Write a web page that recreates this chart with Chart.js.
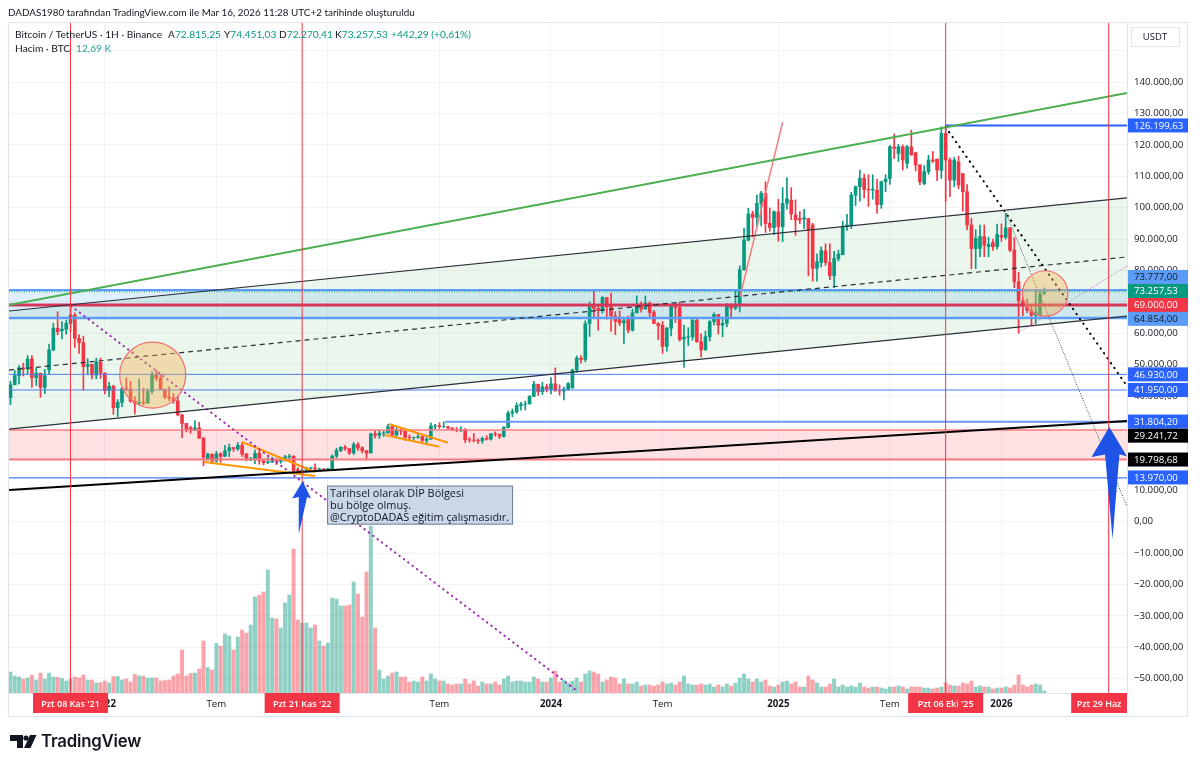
<!DOCTYPE html>
<html>
<head>
<meta charset="utf-8">
<script src="https://cdn.jsdelivr.net/npm/chart.js@4"></script>
<style>
  html,body{margin:0;padding:0;background:#fff;width:1200px;height:766px;overflow:hidden}
  canvas{position:absolute;left:0;top:0}
  .t{position:absolute;font:10.2px Lato,sans-serif;color:#131722;white-space:nowrap;line-height:14px}
  .g{color:#089981}
</style>
</head>
<body>
<canvas id="btc" width="1200" height="766"></canvas>
<div class="t" style="left:8px;top:5px;font-size:9.9px">DADAS1980 tarafından TradingView.com ile Mar 16, 2026 11:28 UTC+2 tarihinde oluşturuldu</div>
<div class="t" style="left:15px;top:27px">Bitcoin / TetherUS · 1H · Binance</div>
<div class="t" style="left:168px;top:27px">A<span class="g">72.815,25</span></div>
<div class="t" style="left:224px;top:27px">Y<span class="g">74.451,03</span></div>
<div class="t" style="left:279px;top:27px">D<span class="g">72.270,41</span></div>
<div class="t" style="left:335px;top:27px">K<span class="g">73.257,53</span></div>
<div class="t g" style="left:391px;top:27px">+442,29 (+0,61%)</div>
<div class="t" style="left:15px;top:41px">Hacim · BTC</div>
<div class="t" style="left:76px;top:41px;color:#26a69a">12,69 K</div>
<svg style="position:absolute;left:9px;top:733px" width="28" height="16" viewBox="0 0 28 16">
  <path d="M1 2H14V15H8V8H1Z" fill="#131722"/><circle cx="17" cy="5" r="2.6" fill="#131722"/>
  <path d="M21 2H27.5L21.5 15H15Z" fill="#131722"/>
</svg>
<div class="t" style="left:41px;top:730px;font:600 16.8px/22px Inter,sans-serif;letter-spacing:-.2px">TradingView</div>
<script>
// weeks counted from Pzt 08 Kas '21 = 0, prices in thousand USDT, volume in thousand BTC
const firstWeek=-14;
const opens=[39.5,43.6,46.5,49.0,48.6,51.8,45.9,47.3,42.8,48.3,
  54.7,61.6,60.8,61.3,63.2,65.8,58.4,57.0,49.4,50.1,
  46.7,50.8,47.3,41.8,43.1,36.3,38.0,42.4,42.2,38.4,
  37.7,38.0,37.8,41.4,46.8,45.8,42.2,39.7,39.4,38.5,
  34.0,31.3,29.9,29.0,29.9,26.6,20.0,21.5,19.3,21.6,
  20.8,22.6,23.6,23.2,24.3,21.5,19.6,20.0,21.8,19.4,
  18.8,19.0,19.4,19.2,19.6,20.6,20.9,16.6,16.3,16.4,
  17.0,17.1,16.7,16.8,16.6,16.9,20.9,22.7,23.7,23.3,
  21.9,24.6,23.5,22.6,21.9,28.0,27.5,28.2,28.3,30.3,
  27.6,29.2,28.9,26.9,26.8,26.9,27.1,25.9,26.3,30.5,
  30.6,30.3,30.3,29.8,29.3,29.0,29.3,26.1,26.0,25.9,
  25.8,26.5,26.3,28.0,27.9,27.2,30.0,34.6,35.0,37.0,
  37.4,37.5,39.9,43.8,41.4,43.0,42.2,43.9,41.7,41.6,
  42.2,42.6,48.3,52.1,51.7,63.1,68.9,67.9,67.2,71.4,
  68.5,65.5,64.9,63.3,64.6,61.0,66.5,68.6,67.7,69.6,
  66.6,63.1,62.6,55.8,61.6,68.5,68.2,58.2,58.7,58.9,
  64.2,57.3,54.7,58.9,63.7,66.0,62.6,63.2,69.0,68.0,
  68.9,80.3,89.7,98.0,96.9,101.4,104.6,95.0,93.7,98.7,
  93.9,101.4,102.4,97.7,96.6,96.4,96.6,94.5,80.7,82.6,
  86.3,82.5,78.3,83.8,85.0,94.0,94.5,104.0,106.7,109.4,
  105.8,105.6,105.6,101.0,108.3,109.3,119.4,117.3,119.4,114.1,
  119.4,117.5,113.6,107.7,111.5,115.2,115.5,111.9,123.7,115.2,
  108.8,114.6,110.9,105.1,94.5,87.0,87.0,90.8,87.6,88.9,
  87.6,91.2,90.6,93.6,86.5,76.4,70.3,68.8,67.4,65.8,65.8,72.82];
const highs=[44.7,48.1,49.7,50.5,52.9,52.9,48.8,47.3,48.5,56.6,
  63.2,66.9,63.7,64.2,69.0,66.5,59.5,59.1,51.9,50.2,
  52.1,52.1,47.5,44.4,43.5,38.9,42.6,45.8,44.7,39.8,
  45.4,42.6,42.3,47.7,48.2,47.0,41.5,42.9,40.8,40.0,
  34.2,31.3,30.5,32.2,31.7,26.9,21.9,21.6,22.4,22.0,
  24.3,24.7,23.6,25.2,25.2,21.8,20.5,22.8,22.7,19.7,
  20.4,20.5,20.0,19.7,21.1,21.5,21.0,17.2,16.8,17.4,
  17.4,18.4,17.1,16.9,17.0,21.3,23.4,23.9,24.3,23.4,
  25.3,25.2,23.9,22.6,28.2,28.9,29.2,28.8,31.0,30.5,
  30.0,29.8,28.9,27.6,26.9,28.4,27.4,26.8,31.4,31.0,
  31.5,31.8,30.3,30.0,30.0,30.2,29.7,26.8,28.1,26.4,
  27.0,27.4,28.1,28.6,27.9,30.3,35.2,35.9,37.9,38.0,
  38.4,40.2,44.7,43.4,44.4,43.8,45.9,49.0,43.6,42.9,
  44.3,48.6,52.8,52.9,64.0,70.0,73.8,68.9,71.7,71.4,
  72.8,66.9,67.2,64.7,65.5,67.7,71.9,70.0,71.9,70.0,
  67.3,63.4,63.8,61.9,68.6,69.4,70.0,62.6,61.8,65.0,
  64.9,59.8,60.7,64.1,66.5,66.0,64.5,69.5,69.5,73.6,
  81.5,93.5,99.8,98.9,104.0,105.2,108.3,99.9,99.0,102.7,
  106.4,109.6,106.4,102.5,98.8,99.5,96.5,95.0,85.3,87.5,
  88.5,88.5,86.1,86.5,95.7,97.9,104.9,106.9,112.0,110.7,
  110.5,110.5,109.0,108.5,110.5,119.9,123.5,120.2,120.0,119.9,
  124.7,117.6,113.7,113.4,116.7,117.9,115.5,125.7,126.2,115.9,
  116.0,116.4,110.9,107.4,96.6,93.0,94.5,94.5,90.6,90.0,
  94.8,94.8,98.2,93.6,90.5,79.4,71.5,70.9,68.9,73.8,74.0,74.45];
const lows=[37.3,43.6,43.9,46.4,47.0,42.8,43.4,39.6,40.8,47.0,
  54.4,59.5,58.2,59.7,60.5,55.5,53.6,41.9,46.8,45.5,
  45.5,45.6,40.7,39.8,34.2,33.5,36.6,41.7,38.0,34.3,
  37.2,37.2,37.7,40.8,45.0,42.1,39.2,38.5,37.7,33.7,
  26.8,28.6,28.2,29.3,26.6,17.8,19.6,18.6,18.9,18.9,
  20.7,20.7,22.4,22.7,20.8,19.5,19.5,18.5,18.3,18.1,
  18.5,18.9,18.2,18.6,19.3,20.0,15.6,15.8,15.5,16.0,
  16.7,16.3,16.3,16.3,16.5,16.9,20.4,22.3,22.7,21.4,
  21.4,22.7,21.9,19.6,21.9,26.6,26.5,27.2,28.2,27.1,
  27.2,27.7,25.9,26.1,25.9,26.5,25.4,24.8,26.2,29.5,
  29.7,29.9,29.5,29.0,28.6,28.7,25.2,25.3,25.4,24.9,
  25.0,26.0,26.0,27.2,26.5,26.9,29.9,33.4,34.5,35.5,
  35.6,37.5,39.9,40.2,40.5,41.3,40.7,41.5,40.3,38.8,
  41.8,42.5,47.6,50.5,50.9,59.0,64.8,61.0,66.4,64.5,
  60.6,59.6,62.4,56.8,60.2,60.7,66.6,66.7,67.7,65.1,
  63.4,58.0,53.6,54.3,59.2,63.4,57.5,49.1,56.1,57.8,
  57.1,52.5,54.6,57.5,62.7,59.8,58.9,62.0,65.1,67.5,
  66.8,80.0,89.4,90.7,94.1,94.2,92.1,92.5,91.5,89.3,
  89.2,99.5,96.2,91.2,94.9,93.3,78.3,76.6,76.6,81.1,
  81.6,77.1,74.5,83.0,85.1,92.8,93.4,100.7,102.1,103.1,
  100.4,102.7,98.2,99.8,105.1,107.4,115.7,114.7,112.0,112.6,
  116.7,111.7,107.3,107.3,110.6,114.4,108.6,109.3,102.0,103.5,
  106.7,106.0,98.9,93.0,80.6,80.6,84.4,84.4,84.4,86.4,
  86.8,89.3,90.0,86.0,74.5,60.0,65.6,66.6,62.5,63.0,65.5,72.27];
const closes=[43.6,46.5,49.0,48.6,51.8,45.9,47.3,42.8,46.5,54.7,
  61.6,60.5,61.3,63.2,65.8,58.4,57.0,49.4,50.1,46.7,
  50.8,47.3,41.8,43.1,36.3,38.0,42.4,42.2,38.4,37.7,
  38.0,37.8,41.4,46.8,45.8,42.2,39.7,39.4,38.5,34.0,
  31.3,29.4,29.0,29.9,26.6,20.5,21.5,19.3,21.6,20.8,
  22.6,23.6,23.2,24.3,21.5,19.6,20.0,21.8,19.4,18.8,
  19.0,19.4,19.2,19.6,20.6,20.9,16.3,16.3,16.4,17.1,
  17.1,16.8,16.8,16.6,16.9,20.9,22.7,23.7,23.3,21.9,
  24.6,23.5,22.6,21.9,28.0,27.5,28.2,28.3,30.3,27.6,
  29.2,28.9,26.9,26.8,26.9,27.1,25.9,26.3,30.5,30.6,
  30.3,30.3,29.8,29.3,29.2,29.3,26.1,26.0,25.9,25.8,
  26.5,26.3,28.0,27.9,27.2,30.0,34.6,35.0,37.0,37.4,
  37.5,39.9,43.8,41.4,43.0,42.2,43.9,41.7,41.6,42.2,
  44.0,48.3,52.1,51.7,63.1,68.9,67.9,67.2,71.4,68.5,
  65.5,63.8,63.3,64.0,61.0,66.5,68.5,67.7,69.6,66.6,
  63.1,62.4,55.8,61.6,68.5,68.2,58.0,58.7,58.9,64.2,
  57.3,54.7,58.9,63.7,66.0,62.6,63.2,69.0,68.0,69.0,
  80.3,89.7,98.0,96.9,101.4,104.6,95.0,93.7,98.7,94.0,
  101.4,102.8,98.0,96.1,96.1,96.8,92.9,80.7,82.8,86.3,
  82.5,78.3,83.8,85.2,94.0,94.5,104.0,106.7,109.4,105.8,
  105.6,105.9,101.0,108.3,109.1,119.4,118.9,119.4,115.2,119.4,
  116.8,113.6,108.3,111.5,115.2,114.8,112.0,123.7,115.2,108.8,
  115.2,107.2,105.1,94.5,87.0,90.2,90.8,88.1,88.3,87.6,
  91.5,90.6,93.6,86.5,76.4,70.3,68.8,67.4,65.8,66.8,72.5,73.26];
const volumes=[126,102,96,84,90,108,78,120,84,120,
  96,93,87,72,84,96,90,108,78,78,
  60,63,72,60,99,99,78,84,66,111,
  102,102,90,90,90,72,75,78,102,114,
  258,102,117,120,144,312,153,138,297,282,
  354,342,258,336,378,360,408,576,588,606,
  738,450,444,390,540,588,864,438,420,420,
  390,408,312,282,300,570,564,522,522,528,
  666,594,456,726,1002,390,138,84,102,120,
  126,96,96,66,72,66,96,72,114,84,
  72,72,54,48,54,54,84,54,72,42,
  66,54,54,66,48,84,102,66,72,72,
  66,66,96,84,66,66,90,132,66,78,
  60,72,90,66,114,132,126,114,66,78,
  96,90,54,84,54,54,66,42,48,48,
  42,48,66,54,60,48,66,102,54,48,
  48,54,48,54,36,48,36,54,42,60,
  90,114,84,66,84,66,78,42,36,48,
  66,72,54,66,36,36,102,78,60,36,
  36,54,84,36,48,36,42,36,60,36,
  30,36,36,30,24,36,36,42,36,24,
  36,36,36,30,30,24,30,36,60,48,
  42,42,60,54,72,36,42,36,36,24,
  30,30,36,30,48,108,48,36,48,54,48,12.69];

const priceTicks=[-50,-40,-30,-20,-10,0,10,20,30,40,50,60,70,80,90,100,110,120,130,140,150];
const timeTicks=[8,34,60,86,112,138,165,191,217];
const timeLabels=['2022','Tem','2023','Tem','2024','Tem','2025','Tem','2026'];

const eventWeeks=[0,54,204,242];
const eventLabels=["Pzt 08 Kas '21","Pzt 21 Kas '22","Pzt 06 Eki '25",'Pzt 29 Haz'];

const WEEK_L=-14.34, WEEK_R=246.27;
const GREEN='#089981', RED='#F23645', BLUE='#2962FF', SOFT_BLUE='#5B9CF6', SOFT_RED='#F77C80';
const AXIS_FONT='"Open Sans",sans-serif';
const weeks=closes.map((_,i)=>i+firstWeek);

// helpers for the drawings, all in week / price units
const datasets=[];
function seg(pts,style){
  datasets.push({type:'line',data:pts.map(p=>({x:p[0],y:p[1]})),pointRadius:0,tension:0,fill:false,order:5,
    borderWidth:1,borderCapStyle:'butt',...style});
  return datasets.length-1;
}
function band(top,bottom,color){
  const b=seg([[WEEK_L,bottom[0]],[WEEK_R,bottom[1]]],{borderWidth:0,borderColor:'transparent',order:30});
  seg([[WEEK_L,top[0]],[WEEK_R,top[1]]],{borderWidth:0,borderColor:'transparent',order:30,fill:b,backgroundColor:color});
}
function hline(p,style,from){ return seg([[from===undefined?WEEK_L:from,p],[WEEK_R,p]],style); }

band([67.1,103.1],[29.5,65.5],'rgba(76,175,80,0.11)');
band([73.777,73.777],[64.854,64.854],'rgba(33,150,243,0.15)');
band([29.24,29.24],[19.8,19.8],'rgba(242,54,69,0.15)');

// volume + candles
datasets.push({type:'bar',label:'Hacim',yAxisID:'yV',order:20,barThickness:3.3,
  data:weeks.map((w,i)=>({x:w,y:volumes[i]})),
  backgroundColor:weeks.map((w,i)=>closes[i]>=opens[i]?'rgba(8,153,129,0.45)':'rgba(242,54,69,0.45)')});
datasets.push({type:'bar',label:'Fitil',order:12,barThickness:1,
  data:weeks.map((w,i)=>({x:w,y:[lows[i],highs[i]]})),
  backgroundColor:weeks.map((w,i)=>closes[i]>=opens[i]?GREEN:RED)});
datasets.push({type:'bar',label:'Gövde',order:11,barThickness:3,
  data:weeks.map((w,i)=>({x:w,y:[opens[i],closes[i]]})),
  backgroundColor:weeks.map((w,i)=>closes[i]>=opens[i]?GREEN:RED)});

// channel and trend lines
seg([[WEEK_L,69.0],[WEEK_R,136.5]],{borderColor:'#4CAF50',borderWidth:2});
seg([[WEEK_L,67.1],[WEEK_R,103.1]],{borderColor:'#2a2e39',borderWidth:1.2});
seg([[WEEK_L,29.5],[WEEK_R,65.5]],{borderColor:'#2a2e39',borderWidth:1.2});
seg([[WEEK_L,48.3],[WEEK_R,84.3]],{borderColor:'#2a2e39',borderWidth:1.2,borderDash:[5,4]});
seg([[WEEK_L,10.1],[WEEK_R,32.1]],{borderColor:'#000',borderWidth:2});
seg([[156.06,71.66],[166.0,127.2]],{borderColor:SOFT_RED,borderWidth:1.5});
seg([[0.12,68.7],[118,-53.8]],{borderColor:'#9C27B0',borderWidth:2,borderDash:[0.5,5],borderCapStyle:'round'});
seg([[204,125.7],[WEEK_R,43.2]],{borderColor:'#000',borderWidth:2,borderDash:[0.5,5.5],borderCapStyle:'round'});
seg([[218.07,98.3],[WEEK_R,4.84]],{borderColor:'#444',borderWidth:1,borderDash:[1,1.5]});
seg([[221.2,60.4],[WEEK_R,81.4]],{borderColor:'#BA68C8',borderWidth:1,borderDash:[1,1.5]});
// orange flags
[[[31.12,19.01],[56.99,14.55]],[[39.98,25.38],[56.99,15.83]],[[74.24,31.11],[87.99,25.16]],[[73.3,27.61],[85.9,23.89]]]
  .forEach(l=>seg(l,{borderColor:'#FF9800',borderWidth:2}));

// horizontal levels
hline(73.777,{borderColor:SOFT_BLUE,borderWidth:2});
hline(73.257,{borderColor:GREEN,borderWidth:1,borderDash:[1,1.5]});
hline(69,{borderColor:'#D5365A',borderWidth:3});
hline(64.854,{borderColor:SOFT_BLUE,borderWidth:2.5});
hline(46.93,{borderColor:'#4a7cf7',borderWidth:1});
hline(41.95,{borderColor:'#4a7cf7',borderWidth:1});
hline(31.804,{borderColor:'#6f97f8',borderWidth:2},87.3);
hline(29.24,{borderColor:SOFT_RED,borderWidth:1.5});
hline(19.8,{borderColor:SOFT_RED,borderWidth:2});
hline(13.97,{borderColor:'#4a7cf7',borderWidth:1.2});
hline(126.2,{borderColor:BLUE,borderWidth:2},204);

// event verticals
eventWeeks.forEach(w=>seg([[w,-54.55],[w,159.14]],{borderColor:RED,borderWidth:1,order:4}));

// highlight circles
[[19.16,46.7,33],[227.2,72.7,22.7]].forEach(c=>datasets.push({type:'line',showLine:false,order:3,
  data:[{x:c[0],y:c[1]}],pointRadius:c[2],pointBackgroundColor:'rgba(245,180,80,0.4)',
  pointBorderColor:'#EE6F73',pointBorderWidth:1.2}));

// blue arrows as closed shapes
[[[54.13,12.9],[51.66,7.4],[53.2,7.9],[53.2,-3.9],[55.14,7.9],[56.07,7.4]],
 [[242.14,30.2],[238.0,20.6],[241.16,21.4],[242.9,-5.5],[244.5,21.5],[246.27,20.8]]]
  .forEach(a=>datasets.push({type:'line',order:2,data:a.map(p=>({x:p[0],y:p[1]})).concat([{x:a[0][0],y:a[0][1]}]),
    pointRadius:0,tension:0,borderWidth:0,fill:'shape',backgroundColor:'#1E53E5'}));

// price tags on the right scale: text, shown at price, background, text colour
const tagTexts=['126.199,63','73.777,00','73.257,53','69.000,00','64.854,00','46.930,00','41.950,00','31.804,20','29.241,72','19.798,68','13.970,00'];
const tagPrices=[126.2,77.93,73.47,69.0,64.6,46.93,41.95,31.9,27.4,19.8,14.1];
const tagColors=[BLUE,SOFT_BLUE,GREEN,RED,SOFT_BLUE,BLUE,BLUE,BLUE,'#000','#000',BLUE];
const tagInk=['#fff','#131722','#fff','#fff','#131722','#fff','#fff','#fff','#fff','#fff','#fff'];

const noteLines=['Tarihsel olarak DİP Bölgesi','bu bölge olmuş.','@CryptoDADAS eğitim çalışmasıdır.'];

const overlay={
  id:'overlay',
  afterDraw(c){
    const g=c.ctx,x=c.scales.x,y=c.scales.y,area=c.chartArea;
    g.save();
    // outer frame
    g.strokeStyle='#E0E3EB';g.lineWidth=1;g.strokeRect(8.5,22.5,1179,694);
    // note box
    const nx=x.getPixelForValue(59.8),ny=y.getPixelForValue(11.5);
    g.fillStyle='#C9D7E8';g.strokeStyle='#6E7F92';g.lineWidth=1;
    g.fillRect(nx,ny,186,39);g.strokeRect(nx+.5,ny+.5,185,38);
    g.fillStyle='#131722';g.font='10.9px '+AXIS_FONT;g.textBaseline='middle';g.textAlign='left';
    noteLines.forEach((t,i)=>g.fillText(t,nx+3,ny+8+i*12));
    // price tags
    g.font='9.7px '+AXIS_FONT;
    tagTexts.forEach((t,i)=>{
      const py=y.getPixelForValue(tagPrices[i]);
      g.fillStyle=tagColors[i];g.fillRect(area.right+1,py-7,60,14);
      g.fillStyle=tagInk[i];g.textAlign='left';g.fillText(t,area.right+7,py+.5);
    });
    // event flags on the time scale
    g.font='600 9px '+AXIS_FONT;
    eventWeeks.forEach((w,i)=>{
      const cx=x.getPixelForValue(w),left=cx-37.5,right=Math.min(cx+37.5,area.right);
      g.fillStyle=RED;g.fillRect(left,area.bottom,right-left,20);
      g.fillStyle='#fff';g.textAlign='center';g.fillText(eventLabels[i],(left+right)/2,area.bottom+11);
    });
    // currency button
    g.fillStyle='#fff';g.strokeStyle='#E0E3EB';g.fillRect(1131,27,49,20);g.strokeRect(1131.5,27.5,48,19);
    g.fillStyle='#131722';g.font='9.5px '+AXIS_FONT;g.textAlign='center';g.fillText('USDT',1155,37.5);
    g.restore();
  }
};

new Chart(document.getElementById('btc'),{
  type:'bar',
  data:{datasets},
  plugins:[overlay],
  options:{responsive:false,animation:false,devicePixelRatio:1,
    layout:{autoPadding:false,padding:{left:9,top:22,right:13,bottom:50}},
    plugins:{legend:{display:false},tooltip:{enabled:false}},
    datasets:{bar:{grouped:false}},
    scales:{
      x:{type:'linear',offset:false,min:WEEK_L,max:WEEK_R,
        afterBuildTicks:s=>{s.ticks=timeTicks.map(v=>({value:v}))},
        afterFit:s=>{s.height=23},
        grid:{color:'#F2F3F5',offset:false,drawTicks:false},border:{color:'#E0E3EB'},
        ticks:{autoSkip:false,maxRotation:0,padding:5,color:'#131722',
          font:ctx=>({family:AXIS_FONT,size:9.7,weight:ctx.tick&&timeLabels[timeTicks.indexOf(ctx.tick.value)]!=='Tem'?'bold':'normal'}),
          callback:v=>timeLabels[timeTicks.indexOf(v)]}},
      y:{position:'right',min:-54.55,max:159.14,
        afterBuildTicks:s=>{s.ticks=priceTicks.map(v=>({value:v}))},
        afterFit:s=>{s.width=60},
        grid:{color:'#F2F3F5',drawTicks:false},border:{color:'#E0E3EB'},
        ticks:{padding:7,crossAlign:'near',color:'#131722',font:{family:AXIS_FONT,size:9.7},
          callback:v=>v===150?'':v===0?'0,00':(v<0?'\u2212':'')+Math.abs(v)+'.000,00'}},
      yV:{display:false,min:0,max:4026}
    }}
});
</script>
</body>
</html>
